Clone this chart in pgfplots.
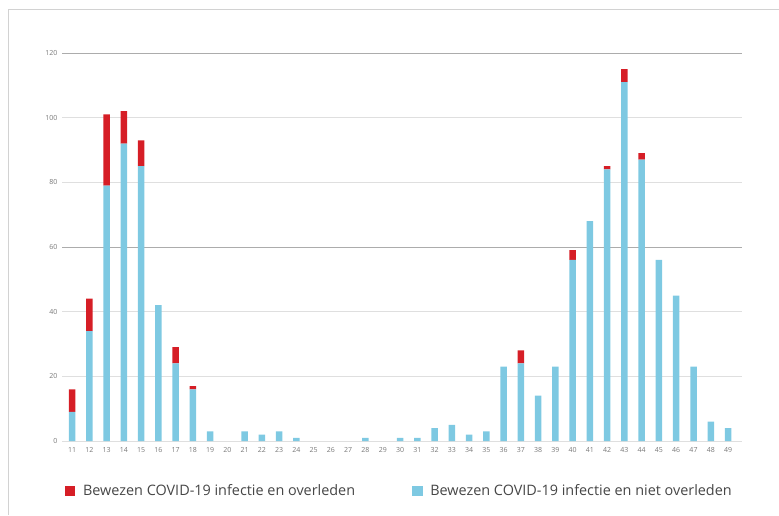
\documentclass[border=0pt]{standalone}
\usepackage{pgfplots}
\pgfplotsset{compat=1.18}
\usepackage{pgfplotstable}
\usepackage{fontspec}
\setmainfont{Open Sans}
\definecolor{cred}{RGB}{214,30,38}
\definecolor{cblue}{RGB}{126,201,226}
\definecolor{tickgray}{RGB}{120,120,120}
\definecolor{legtxt}{RGB}{70,70,70}
\pgfplotstableread{
week blue red
11 9 7
12 34 10
13 79 22
14 92 10
15 85 8
16 42 0
17 24 5
18 16 1
19 3 0
20 0 0
21 3 0
22 2 0
23 3 0
24 1 0
25 0 0
26 0 0
27 0 0
28 1 0
29 0 0
30 1 0
31 1 0
32 4 0
33 5 0
34 2 0
35 3 0
36 23 0
37 24 4
38 14 0
39 23 0
40 56 3
41 68 0
42 84 1
43 111 4
44 87 2
45 56 0
46 45 0
47 23 0
48 6 0
49 4 0
}\datatable
\begin{document}
\begin{tikzpicture}
\path[use as bounding box] (0,0) rectangle (779pt,515pt);
\begin{axis}[
  at={(62pt,74pt)}, anchor=south west,
  scale only axis, width=680pt, height=388pt,
  xmin=10.42, xmax=49.81, ymin=0, ymax=120,
  ybar stacked, bar width=6.5pt,
  xtick={11,...,49}, ytick={0,20,...,120},
  axis line style={draw=none},
  major tick length=0pt,
  ymajorgrids, grid style={draw=gray!25, line width=0.6pt},
  extra y ticks={60,120}, extra y tick labels={},
  extra y tick style={grid style={draw=gray!65, line width=0.6pt}},
  /pgf/number format/assume math mode=true,
  tick label style={font=\fontsize{7}{8}\selectfont, text=tickgray},
  yticklabel style={xshift=-1pt},
  xticklabel style={yshift=-3pt},
  legend columns=2,
  legend style={at={(axis description cs:0.004,-0.129)}, anchor=west,
    draw=none, fill=none, inner sep=0pt,
    font=\fontsize{14.4}{17}\selectfont, text=legtxt},
  legend cell align=left,
  legend image code/.code={\fill[#1] (0pt,-4.5pt) rectangle (9.5pt,5pt); \path[draw=none,fill=none] (0pt,0pt) rectangle (16pt,0.1pt);},
]
\addplot[fill=cblue, draw=none, forget plot] table[x=week, y=blue] {\datatable};
\addplot[fill=cred, draw=none, forget plot] table[x=week, y=red] {\datatable};
\addlegendimage{cred}
\addlegendentry{Bewezen COVID-19 infectie en overleden\hspace*{55pt}}
\addlegendimage{cblue}
\addlegendentry{Bewezen COVID-19 infectie en niet overleden}
\end{axis}
\draw[gray!35, line width=0.8pt] (8pt,0pt) -- (8pt,506pt) -- (779pt,506pt);
\end{tikzpicture}
\end{document}
